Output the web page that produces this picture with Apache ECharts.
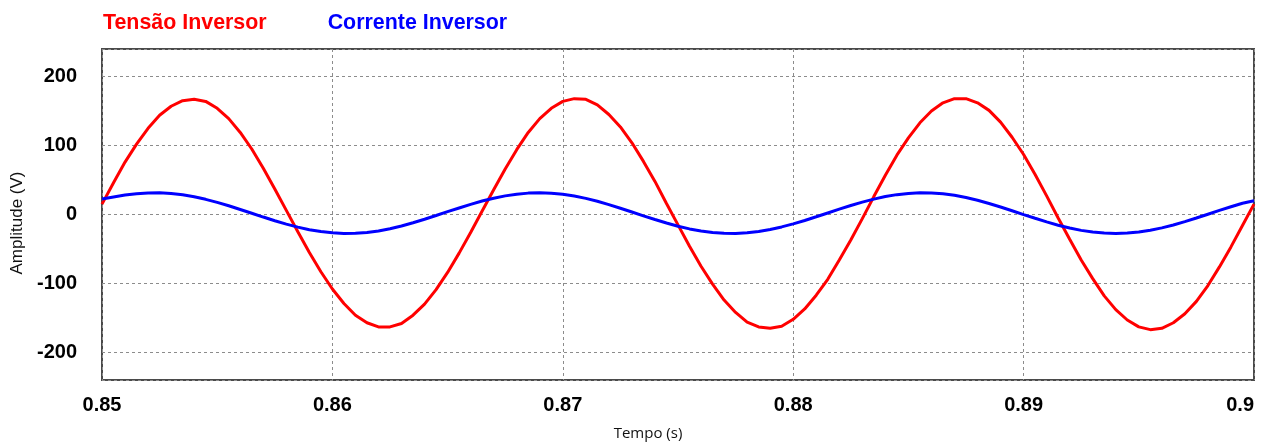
<!DOCTYPE html>
<html>
<head>
<meta charset="utf-8">
<script src="https://cdn.jsdelivr.net/npm/echarts@6/dist/echarts.min.js"></script>
<style>
html,body{margin:0;padding:0;background:#fff;}
#chart{width:1264px;height:444px;}
</style>
</head>
<body>
<div id="chart"></div>
<script>
// Time samples (s)
const times = [
0.85,0.8505,0.851,0.8515,0.852,0.8525,0.853,0.8535,0.854,0.8545,
0.855,0.8555,0.856,0.8565,0.857,0.8575,0.858,0.8585,0.859,0.8595,
0.86,0.8605,0.861,0.8615,0.862,0.8625,0.863,0.8635,0.864,0.8645,
0.865,0.8655,0.866,0.8665,0.867,0.8675,0.868,0.8685,0.869,0.8695,
0.87,0.8705,0.871,0.8715,0.872,0.8725,0.873,0.8735,0.874,0.8745,
0.875,0.8755,0.876,0.8765,0.877,0.8775,0.878,0.8785,0.879,0.8795,
0.88,0.8805,0.881,0.8815,0.882,0.8825,0.883,0.8835,0.884,0.8845,
0.885,0.8855,0.886,0.8865,0.887,0.8875,0.888,0.8885,0.889,0.8895,
0.89,0.8905,0.891,0.8915,0.892,0.8925,0.893,0.8935,0.894,0.8945,
0.895,0.8955,0.896,0.8965,0.897,0.8975,0.898,0.8985,0.899,0.8995,
0.9
];
// Tensão Inversor (V)
const tensao = [
15,46,76,102,125,144,157,165,167,164,
154,139,119,95,67,37,6,-25,-55,-83,
-108,-129,-146,-157,-163,-163,-158,-146,-130,-109,
-84,-56,-26,5,36,66,94,119,139,154,
164,168,167,159,145,127,104,77,48,16,
-15,-46,-75,-101,-124,-142,-156,-163,-165,-162,
-152,-137,-117,-94,-66,-37,-6,26,57,86,
111,133,150,162,168,168,162,151,134,112,
87,58,27,-5,-36,-66,-93,-118,-138,-153,
-163,-167,-165,-157,-144,-126,-103,-76,-47,-16,
15
];
// Corrente Inversor
const corrente = [
22.5,25.5,28.2,30.1,31.3,31.4,30.5,28.6,25.7,22.0,
17.6,12.7,7.3,1.8,-3.7,-9.1,-14.0,-18.3,-22.0,-24.8,
-26.6,-27.5,-27.2,-26.0,-23.8,-20.6,-16.6,-12.0,-6.9,-1.5,
4.1,9.5,14.7,19.5,23.6,27.0,29.5,31.0,31.5,30.9,
29.4,26.8,23.4,19.2,14.4,9.1,3.6,-1.9,-7.3,-12.4,
-17.0,-20.9,-23.9,-26.1,-27.3,-27.4,-26.5,-24.6,-21.7,-18.0,
-13.6,-8.7,-3.3,2.2,7.7,13.1,18.0,22.3,26.0,28.8,
30.6,31.5,31.2,30.0,27.8,24.6,20.6,16.0,10.9,5.5,
-0.1,-5.5,-10.7,-15.5,-19.6,-23.0,-25.5,-27.0,-27.5,-26.9,
-25.4,-22.8,-19.4,-15.2,-10.4,-5.1,0.4,5.9,11.3,16.4,
20.0
];
const seriesNames = ['Tensão Inversor', 'Corrente Inversor'];
const seriesColors = ['#ff0000', '#0000ff'];
const xAxisName = 'Tempo (s)';
const yAxisName = 'Amplitude (V)';

const chart = echarts.init(document.getElementById('chart'), null, {renderer: 'canvas'});
const pair = (arr) => times.map((t, i) => [t, arr[i]]);
const boldFont = '"Liberation Sans", Arial, sans-serif';
const thinFont = '"Open Sans", "Noto Sans", sans-serif';

chart.setOption({
  animation: false,
  backgroundColor: '#ffffff',
  legend: {
    left: 93,
    top: 8,
    icon: 'none',
    itemWidth: 0,
    itemHeight: 0,
    itemGap: 56,
    selectedMode: false,
    textStyle: {fontFamily: boldFont, fontWeight: 'bold', fontSize: 21.4},
    data: [
      {name: seriesNames[0], textStyle: {color: seriesColors[0]}},
      {name: seriesNames[1], textStyle: {color: seriesColors[1]}}
    ]
  },
  grid: {
    left: 102, right: 10, top: 49, bottom: 64,
    show: true,
    borderColor: '#4a4a4a',
    borderWidth: 2,
    containLabel: false,
    outerBoundsMode: 'none'
  },
  xAxis: {
    type: 'value',
    min: 0.85, max: 0.9, interval: 0.01,
    name: xAxisName,
    nameLocation: 'middle',
    nameGap: 46,
    nameTextStyle: {fontFamily: thinFont, fontSize: 15, color: '#111', padding: [0, 60, 0, 0]},
    axisLine: {show: false},
    axisTick: {show: false},
    axisLabel: {
      fontFamily: boldFont, fontWeight: 'bold', fontSize: 20, color: '#000', margin: 15,
      alignMaxLabel: 'right',
      formatter: (v) => String(parseFloat(v.toFixed(3)))
    },
    splitLine: {show: true, lineStyle: {color: '#8c8c8c', width: 1, type: [3, 3]}}
  },
  yAxis: {
    type: 'value',
    min: -240, max: 240,
    name: yAxisName,
    nameLocation: 'middle',
    nameRotate: 90,
    nameGap: 75,
    nameTextStyle: {fontFamily: boldFont, fontSize: 17, color: '#111', padding: [0, 17, 0, 0]},
    axisLine: {show: false},
    axisTick: {show: false},
    axisLabel: {
      fontFamily: boldFont, fontWeight: 'bold', fontSize: 20, color: '#000', margin: 25,
      showMinLabel: false, showMaxLabel: false
    },
    splitLine: {show: true, lineStyle: {color: '#8c8c8c', width: 1, type: [3, 3]}}
  },
  series: [
    {
      name: seriesNames[0], type: 'line', data: pair(tensao),
      showSymbol: false, smooth: false, color: seriesColors[0],
      lineStyle: {width: 3, color: seriesColors[0]}, z: 3
    },
    {
      name: seriesNames[1], type: 'line', data: pair(corrente),
      showSymbol: false, smooth: false, color: seriesColors[1],
      lineStyle: {width: 3, color: seriesColors[1]}, z: 4
    }
  ]
});
</script>
</body>
</html>
